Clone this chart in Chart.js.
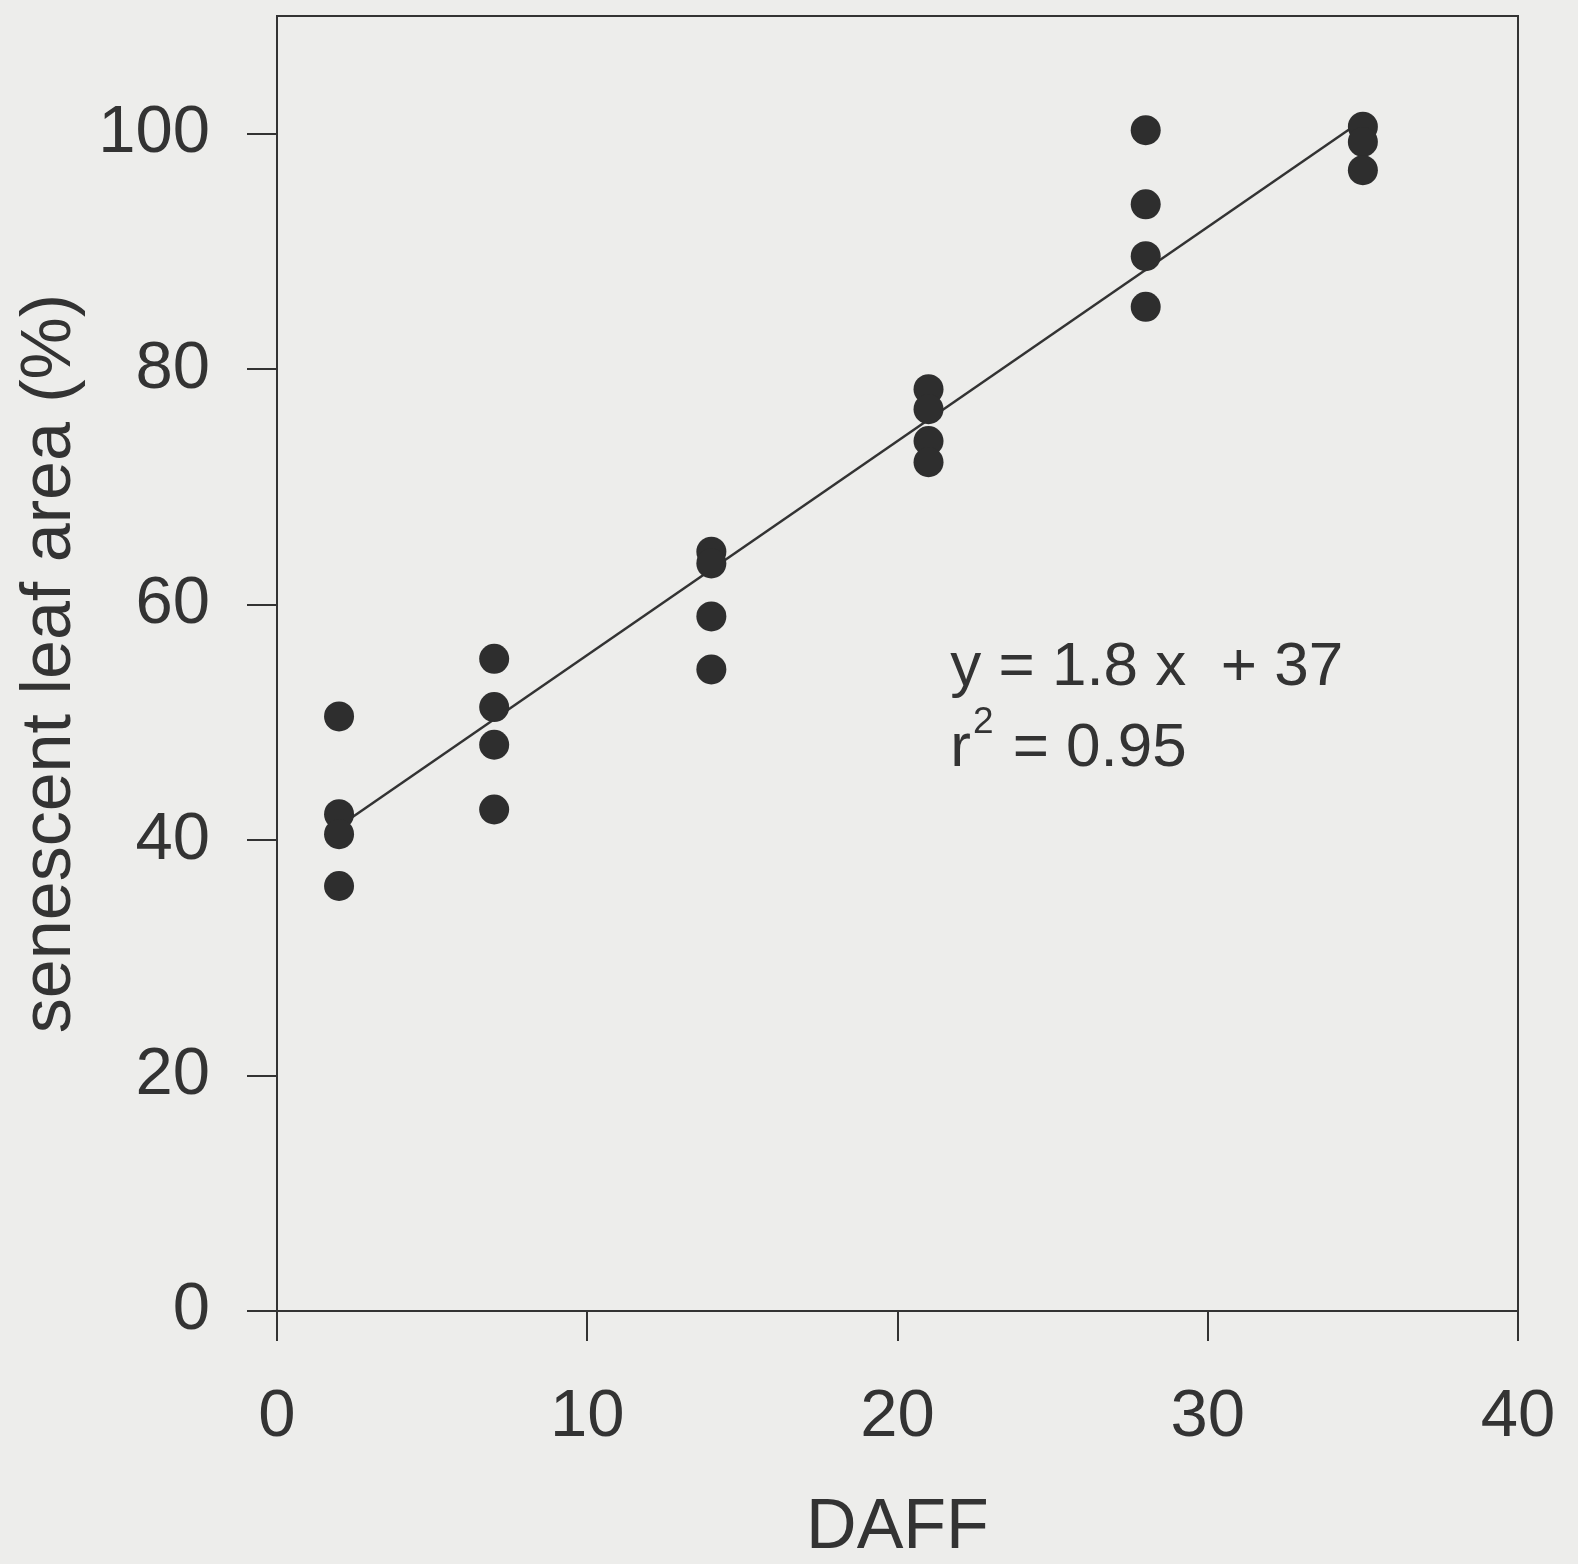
<!DOCTYPE html>
<html>
<head>
<meta charset="utf-8">
<script src="https://cdn.jsdelivr.net/npm/chart.js@4.4.1/dist/chart.umd.min.js"></script>
<style>
  body { margin: 0; background: #ededeb; }
  #wrap { width: 1578px; height: 1564px; }
</style>
</head>
<body>
<div id="wrap"><canvas id="scatter" width="1578" height="1564"></canvas></div>
<script>
// days after first flower, one group of replicate plants per day
var daffDays = [2, 7, 14, 21, 28, 35];
var senescentArea = [
  [50.5, 42.2, 40.5, 36.1],
  [55.4, 51.3, 48.1, 42.6],
  [64.5, 63.5, 59.0, 54.5],
  [78.3, 76.6, 73.9, 72.1],
  [100.3, 94.0, 89.6, 85.3],
  [100.6, 99.3, 96.9]
];
// regression line as drawn (two ends)
var fitX = [2.4, 34.8];
var fitY = [41.9, 100.8];
var xTicks = [0, 10, 20, 30, 40];
var yTicks = [0, 20, 40, 60, 80, 100];

var ink = '#333333';
var fontName = '"Liberation Sans", Arial, sans-serif';

var points = [];
daffDays.forEach(function (d, i) {
  senescentArea[i].forEach(function (v) { points.push({ x: d, y: v }); });
});
var fitLine = fitX.map(function (x, i) { return { x: x, y: fitY[i] }; });

// top + right border of the box, and the fit equation
var boxAndText = {
  id: 'boxAndText',
  afterDraw: function (chart) {
    var ctx = chart.ctx, a = chart.chartArea;
    var xs = chart.scales.x, ys = chart.scales.y;
    ctx.save();
    ctx.strokeStyle = ink;
    ctx.lineWidth = 2;
    ctx.beginPath();
    ctx.moveTo(a.left, a.top);
    ctx.lineTo(a.right, a.top);
    ctx.lineTo(a.right, a.bottom);
    ctx.stroke();

    ctx.fillStyle = ink;
    ctx.textBaseline = 'alphabetic';
    ctx.textAlign = 'left';
    var tx = xs.getPixelForValue(21.7);
    ctx.font = '62px ' + fontName;
    ctx.fillText('y = 1.8 x  + 37', tx, ys.getPixelForValue(53.2));
    var y2 = ys.getPixelForValue(46.3);
    ctx.fillText('r', tx, y2);
    var rw = ctx.measureText('r').width;
    ctx.font = '37px ' + fontName;
    ctx.fillText('2', tx + rw + 2, y2 - 33);
    var sw = ctx.measureText('2').width;
    ctx.font = '62px ' + fontName;
    ctx.fillText(' = 0.95', tx + rw + sw + 4, y2);
    ctx.restore();
  }
};

var scatter = document.getElementById('scatter');
new Chart(scatter, {
  type: 'scatter',
  data: {
    datasets: [{
      label: 'senescent leaf area',
      data: points,
      pointRadius: 15,
      pointHoverRadius: 15,
      backgroundColor: '#2e2e2e',
      borderWidth: 0
    }, {
      label: 'fit',
      data: fitLine,
      showLine: true,
      pointRadius: 0,
      borderColor: ink,
      borderWidth: 2.5,
      fill: false
    }]
  },
  options: {
    responsive: false,
    animation: false,
    layout: { padding: { top: 16, right: 60, left: 0, bottom: 0 } },
    plugins: { legend: { display: false }, tooltip: { enabled: false } },
    scales: {
      x: {
        type: 'linear',
        min: 0, max: 40,
        afterBuildTicks: function (s) { s.ticks = xTicks.map(function (v) { return { value: v }; }); },
        afterFit: function (s) { s.height = 253; s.paddingLeft = 0; s.paddingRight = 0; },
        border: { display: true, color: ink, width: 2 },
        grid: { drawOnChartArea: false, drawTicks: true, tickLength: 30, color: ink, lineWidth: 2 },
        ticks: { color: ink, padding: 36, font: { family: fontName, size: 67 } },
        title: { display: true, text: 'DAFF', color: ink, padding: { top: 0, bottom: 0 },
                 font: { family: fontName, size: 70, lineHeight: 1 } }
      },
      y: {
        type: 'linear',
        min: 0, max: 110,
        afterBuildTicks: function (s) { s.ticks = yTicks.map(function (v) { return { value: v }; }); },
        afterFit: function (s) { s.width = 277; s.paddingTop = 0; s.paddingBottom = 0; },
        border: { display: true, color: ink, width: 2 },
        grid: { drawOnChartArea: false, drawTicks: true, tickLength: 30, color: ink, lineWidth: 2 },
        ticks: { color: ink, padding: 37, font: { family: fontName, size: 67 } },
        title: { display: true, text: 'senescent leaf area (%)', color: ink, padding: { top: 16, bottom: 0 },
                 font: { family: fontName, size: 70, lineHeight: 1 } }
      }
    }
  },
  plugins: [boxAndText]
});
</script>
</body>
</html>
